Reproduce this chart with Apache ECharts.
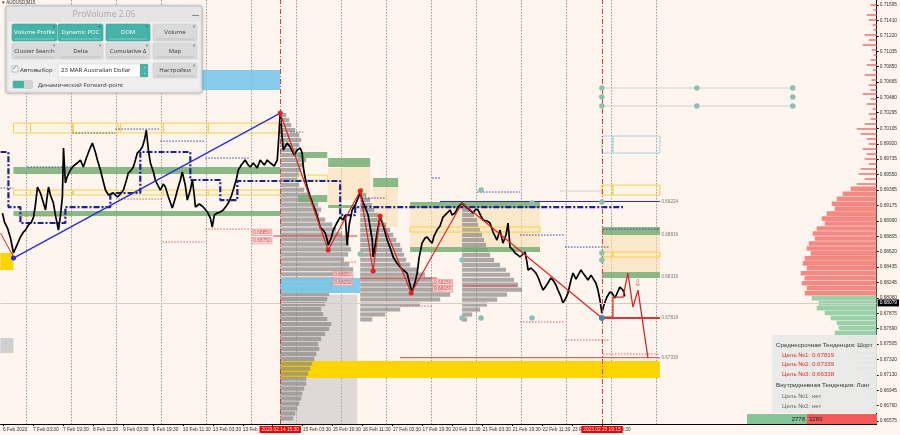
<!DOCTYPE html>
<html><head><meta charset="utf-8">
<script src="https://cdn.jsdelivr.net/npm/echarts@6/dist/echarts.min.js"></script>
<style>html,body{margin:0;padding:0;background:#FDF5EE}#c{width:900px;height:435px}</style>
</head><body><div id="c"></div>
<script>
// ---------- axes ----------
const X_MIN = -1.3333, X_MAX = 466.4;          // trading hours since 6 Feb 11:30
const Y_MIN = 0.66539, Y_MAX = 0.71655;
const xLabelHours = [0,16,32,48,64,80,96,112,128,144,160,176,192,208,224,240,256,272,288,304,320];
const xLabelTexts = ['6 Feb 2023','7 Feb 03:30','7 Feb 19:30','8 Feb 11:30','9 Feb 03:30','9 Feb 19:30','10 Feb 11:30','13 Feb 03:30','13 Feb 19:30','14 Feb 11:30','15 Feb 03:30','15 Feb 19:30','16 Feb 11:30','17 Feb 03:30','17 Feb 19:30','20 Feb 11:30','21 Feb 03:30','21 Feb 19:30','22 Feb 11:30','23 Feb 03:30','23 Feb 19:30'];
const yTickLabels = [0.71595,0.71410,0.71220,0.71035,0.70850,0.70665,0.70480,0.70295,0.70105,0.69920,0.69735,0.69550,0.69365,0.69175,0.68990,0.68805,0.68620,0.68435,0.68245,0.68060,0.67875,0.67690,0.67505,0.67320,0.67130,0.66945,0.66760,0.66575];
const dayLineHours = [12.5,36.5,60.5,84.5,108.5,132.5,156.5,180.5,204.5,228.5,252.5,276.5,300.5,324.5,348.5];
const currentPrice = 0.68079;
const markerTimes = [148.0, 319.75];
const markerTexts = ['2023.02.14 15:30','2023.02.23 19:15'];

// ---------- price path [hour, price] ----------
const priceData = [
[-0.3,0.69084],[0.8,0.68976],[2.4,0.68903],[4.0,0.68783],[5.6,0.68602],[7.2,0.68686],[9.3,0.68795],[10.9,0.68855],[12.0,0.68879],[13.6,0.68940],[15.2,0.68976],[16.3,0.69036],[17.3,0.69181],[18.4,0.69398],[20.0,0.69326],[21.6,0.69205],[22.7,0.69121],[23.7,0.69302],[24.3,0.69398],[25.3,0.69302],[26.9,0.69205],[28.0,0.69060],[29.6,0.68879],[30.7,0.69060],[31.7,0.69278],[32.3,0.69869],[33.3,0.69446],[34.4,0.69531],[36.0,0.69603],[37.6,0.69652],[39.7,0.69688],[41.3,0.69724],[42.9,0.69640],[44.5,0.69748],[46.1,0.69845],[47.7,0.69929],[49.3,0.69821],[50.4,0.69724],[52.0,0.69603],[53.6,0.69459],[54.7,0.69362],[56.3,0.69302],[57.3,0.69278],[58.9,0.69326],[61.1,0.69278],[62.7,0.69314],[64.3,0.69362],[65.9,0.69483],[66.9,0.69567],[68.5,0.69603],[69.6,0.69640],[70.7,0.69724],[71.7,0.69808],[73.3,0.69845],[74.4,0.69881],[75.5,0.69965],[76.5,0.70086],[77.6,0.69845],[78.7,0.69688],[80.3,0.69579],[81.3,0.69483],[82.9,0.69410],[84.0,0.69362],[85.6,0.69434],[86.7,0.69398],[88.3,0.69278],[90.4,0.69145],[92.0,0.69265],[93.1,0.69362],[94.7,0.69483],[95.7,0.69579],[97.3,0.69422],[98.4,0.69241],[100.0,0.69362],[101.1,0.69483],[102.1,0.69302],[102.7,0.69157],[104.8,0.69193],[106.9,0.69157],[109.1,0.69097],[110.7,0.69024],[111.7,0.68916],[112.8,0.69060],[114.4,0.69084],[116.0,0.69097],[117.6,0.69121],[119.2,0.69169],[120.3,0.69205],[121.9,0.69290],[122.9,0.69362],[124.5,0.69483],[125.6,0.69603],[127.2,0.69664],[129.3,0.69724],[130.9,0.69664],[132.0,0.69640],[133.6,0.69688],[135.7,0.69627],[137.3,0.69724],[139.5,0.69664],[141.1,0.69724],[142.7,0.69688],[144.8,0.69652],[146.4,0.69724],[146.9,0.69881],[148.0,0.70291],[149.6,0.69845],[151.7,0.69929],[153.3,0.69881],[155.5,0.69784],[157.1,0.69845],[158.7,0.69869],[159.7,0.69808],[160.3,0.69640],[161.3,0.69507],[162.4,0.69398],[164.0,0.69278],[165.6,0.69181],[166.7,0.69121],[168.3,0.69000],[169.3,0.68916],[170.9,0.68879],[172.0,0.68843],[173.1,0.68759],[173.6,0.68698],[175.2,0.68783],[176.3,0.68879],[177.9,0.68952],[180.0,0.69036],[181.6,0.69000],[182.7,0.69060],[183.7,0.68698],[184.8,0.68940],[186.4,0.69121],[188.0,0.69181],[189.1,0.69241],[190.7,0.69326],[191.7,0.69241],[193.3,0.69157],[194.9,0.69060],[196.0,0.68916],[197.1,0.68759],[197.6,0.68554],[198.7,0.68698],[199.7,0.68843],[200.8,0.68976],[201.3,0.69036],[202.9,0.68940],[205.1,0.68759],[206.7,0.68662],[208.3,0.68554],[209.9,0.68493],[212.0,0.68433],[213.6,0.68397],[215.7,0.68360],[217.3,0.68216],[218.4,0.68131],[220.0,0.68252],[221.1,0.68360],[222.1,0.68541],[223.7,0.68722],[225.3,0.68783],[226.4,0.68795],[228.0,0.68747],[229.1,0.68722],[230.1,0.68807],[231.7,0.68879],[233.3,0.68928],[234.9,0.69036],[236.5,0.69072],[238.7,0.69121],[239.7,0.69060],[241.3,0.69084],[242.9,0.69157],[245.1,0.69205],[246.7,0.69169],[247.7,0.69157],[249.3,0.69121],[250.9,0.69084],[252.5,0.69133],[253.6,0.69121],[255.2,0.69048],[256.3,0.69000],[258.4,0.68988],[260.0,0.68964],[261.6,0.68855],[263.7,0.68759],[265.3,0.68879],[266.9,0.68722],[268.5,0.68819],[269.6,0.68964],[270.7,0.68674],[272.3,0.68638],[273.3,0.68602],[274.9,0.68578],[276.0,0.68554],[277.6,0.68590],[278.7,0.68614],[279.7,0.68493],[280.3,0.68397],[281.9,0.68421],[283.0,0.68397],[284.5,0.68360],[285.6,0.68312],[287.2,0.68216],[288.3,0.68155],[289.9,0.68204],[290.9,0.68240],[292.5,0.68300],[293.6,0.68276],[295.2,0.68216],[296.3,0.68155],[297.9,0.68071],[298.9,0.67998],[300.5,0.68059],[301.6,0.68119],[303.2,0.68276],[304.3,0.68360],[305.9,0.68288],[306.9,0.68312],[308.5,0.68397],[309.6,0.68360],[311.2,0.68312],[312.3,0.68276],[313.9,0.68336],[314.9,0.68312],[316.5,0.68240],[317.6,0.68155],[318.7,0.68035],[319.7,0.67878],[320.8,0.67974],[322.4,0.68071],[324.0,0.68131],[325.1,0.68119],[326.7,0.68059],[327.7,0.68071],[329.3,0.68191],[331.0,0.68155],[332.0,0.68079]
];

// ---------- zones [h1, h2, priceTop, priceBottom] ----------
const greenZones = [[5.6,148,0.69640,0.69555],[5.6,148,0.69109,0.69048],[157.6,173.1,0.69821,0.69748],[173.6,196,0.69748,0.69640],[197.6,210.9,0.69507,0.69398],[157.6,173.1,0.69302,0.69217],[173.6,189.1,0.69181,0.69145],[217.3,286.7,0.69217,0.69145],[217.3,286.7,0.68674,0.68614],[319.7,350.7,0.68916,0.68819],[319.7,350.7,0.68373,0.68300]];
const beigeZones = [[173.6,181.1,0.69627,0.69157],[181.1,196,0.69640,0.69241],[197.6,210.9,0.69398,0.68916],[217.3,286.7,0.69145,0.68674],[319.7,350.7,0.68819,0.68373]];
const yellowBoxes = [[5.6,14.7,0.70170,0.70050],[14.7,37.1,0.70170,0.70050],[37.6,61.6,0.70170,0.70050],[62.7,85.6,0.70170,0.70050],[85.6,109.6,0.70170,0.70050],[109.6,148,0.70170,0.70050],
 [5.6,14.7,0.69362,0.69302],[14.7,37.1,0.69362,0.69302],[37.6,61.6,0.69362,0.69302],[62.7,85.6,0.69362,0.69302],[85.6,109.6,0.69362,0.69302],[109.6,148,0.69362,0.69302],
 [157.1,173.1,0.69543,0.69483],[217.3,286.7,0.68916,0.68855],[319.7,325.6,0.69422,0.69302],[325.6,350.7,0.69422,0.69302],[319.7,325.6,0.68614,0.68554],[325.6,350.7,0.68614,0.68554]];
const blueBoxes = [[319.7,325.6,0.70014,0.69808],[325.6,350.7,0.70014,0.69808]];
const skyZones = [[105.3,148,0.70810,0.70569],[148,190.7,0.68300,0.68119]];
const goldZones = [[148,350.7,0.67299,0.67094],[-1.4,5.6,0.68602,0.68397]];
const grayZones = [[-1.4,5.6,0.67576,0.67395]];
const profileBackZones = [[148,189.1,0.68100,0.66539]];

// ---------- volume profiles ----------
const profile1Start = 148.0, profile1Top = 0.70267;
const profile1Volumes = [6,9,11,15,19,21,19,17,23,26,24,21,19,17,19,24,30,34,38,41,39,45,52,56,62,66,69,71,68,64,69,73,68,62,56,52,49,47,45,41,43,47,51,49,45,41,38,39,36,34,32,30,28,26,26,24,22,21,19,17,15,13];
const profile2Start = 190.7, profile2Top = 0.69362;
const profile2Volumes = [3,6,10,12,14,18,22,26,30,33,36,40,42,44,46,50,58,65,72,78,85,90,80,60,40,25,12];
const profile3Start = 245.1, profile3Top = 0.69181;
const profile3Volumes = [4,8,12,15,16,18,20,22,24,26,28,32,38,44,48,52,56,60,45,35,25,18,10,5];
const marketProfileTop = 0.71595;
const marketProfileVolumes = [6,3,10,8,4,3,12,8,14,5,3,6,10,4,12,5,8,6,14,6,10,4,8,6,12,20,16,10,8,14,10,12,8,16,18,12,20,26,34,40,45,42,50,55,52,60,64,62,68,70,66,72,74,70,76,72,75,70,72,65,58,60,52,46,40,38,42,30,25,20,22,18,15,20,12,10,8,12,6,8,5,4];
const profileStep = 0.0006;

// ---------- lines ----------
const blueTrend = [[5.6,0.68541],[148.0,0.70291]];
const redLead = [[-1.3,0.68843],[5.6,0.68554]];
const redZigzag = [[148.0,0.70291],[173.6,0.68638],[190.7,0.69350],[197.6,0.68385],[201.3,0.69048],[217.9,0.68119],[245.1,0.69205],[319.7,0.67817]];
const redProjection = [[320.3,0.67829],[325.6,0.67829],[325.6,0.68071],[331.0,0.68071],[333.6,0.68360],[336.3,0.67950],[339.0,0.68155],[344.3,0.67335]];
const navyStep = [[-1.3,0.69821],[2.9,0.69821],[2.9,0.69157],[9.3,0.69157],[9.3,0.68964],[33.3,0.68964],[33.3,0.69157],[57.3,0.69157],[57.3,0.69326],[73.3,0.69326],[73.3,0.69821],[100.0,0.69821],[100.0,0.69483],[116.0,0.69483],[116.0,0.69241],[125.1,0.69241],[125.1,0.69471],[180.0,0.69471],[180.0,0.69060],[188.0,0.69060],[188.0,0.69157],[331.0,0.69157]];
// [h1, h2, price]
const navyDotted = [[60.0,84.0,0.70098],[84.0,108.0,0.69953],[108.0,132.0,0.69748],[13.1,37.1,0.69640],[-1.3,5.6,0.69386],[191.7,204.0,0.69265],[229.1,233.3,0.69507],[253.1,276.0,0.69338],[276.0,300.0,0.68819],[300.0,324.0,0.68674],[320.3,350.7,0.68891]];
const redDotted = [[8.3,33.3,0.69048],[61.6,85.1,0.69253],[85.1,108.0,0.68735],[108.0,132.0,0.68891],[212.0,229.6,0.67962],[276.0,300.0,0.67769],[320.3,350.7,0.67383],[300.0,324.0,0.67552],[181.1,189.1,0.68493]];
const grayDotted = [[37.1,60.0,0.70050],[153.3,160.3,0.70062]];
const redThin = [[144.3,189.1,0.68807],[190.7,231.7,0.68300],[245.6,274.4,0.68204],[212.0,350.7,0.67339]];
const redThick = [[319.7,350.7,0.67819]];
const navySolid = [[233.3,350.7,0.69224]];
const grayThin = [[297.3,319.7,0.69350],[319.7,421.6,0.70593],[319.7,421.6,0.70376]];

// ---------- points & labels ----------
const redDots = [[148.0,0.70291],[173.6,0.68638],[190.7,0.69350],[197.6,0.68385],[201.3,0.69048],[217.9,0.68119]];
const blueDots = [[5.6,0.68541]];
const steelDots = [[319.7,0.67817]];
const tealDots = [[319.7,0.70593],[319.7,0.70485],[319.7,0.70376],[370.4,0.70593],[370.4,0.70376],[421.6,0.70593],[421.6,0.70485],[421.6,0.70376],[319.7,0.69217],[319.7,0.68602],[319.7,0.68517],[245.1,0.68517],[245.1,0.67817],[255.2,0.69362],[255.2,0.67817],[282.4,0.69205],[282.4,0.67817],[190.7,0.68590]];
const priceTags = [[133.1,0.68850,'0.68850'],[133.1,0.68750,'0.68750'],[176.3,0.68340,'0.68350'],[176.3,0.68245,'0.68250'],[229.6,0.68245,'0.68250'],[229.6,0.68170,'0.68180']];
const targetTags = [[351.6,0.69224,'0.69224'],[351.6,0.68819,'0.68819'],[351.6,0.68319,'0.68319'],[351.6,0.67819,'0.67819'],[351.6,0.67339,'0.67339']];
const arrowMark = [[339.0,0.68240,'⇩']];

const buyVolume = 2778, sellVolume = 3283;
const trendLines = [
  ['Среднесрочная Тенденция: Шорт','#333'],
  ['Цель №1: 0.67819','#E0302E'],
  ['Цель №2: 0.67339','#E0302E'],
  ['Цель №3: 0.66338','#E0302E'],
  ['Внутридневная Тенденция: Лонг','#333'],
  ['Цель №1: нет','#6A6A6A'],
  ['Цель №2: нет','#6A6A6A']
];

// ---------- helpers ----------
function rectSeries(data, style, z){
  return {type:'custom', data, z, silent:true, clip:true, encode:{x:[0,1], y:[2,3]},
    renderItem(params, api){
      const a = api.coord([api.value(0), api.value(2)]);
      const b = api.coord([api.value(1), api.value(3)]);
      return {type:'rect', shape:{x:Math.min(a[0],b[0]), y:Math.min(a[1],b[1]), width:Math.abs(b[0]-a[0]), height:Math.abs(b[1]-a[1])}, style:Object.assign({}, style)};
    }};
}
function segSeries(data, style, z){
  return {type:'custom', data, z, silent:true, clip:true, encode:{x:[0,1], y:2},
    renderItem(params, api){
      const a = api.coord([api.value(0), api.value(2)]);
      const b = api.coord([api.value(1), api.value(2)]);
      return {type:'line', shape:{x1:a[0], y1:a[1], x2:b[0], y2:b[1]}, style:Object.assign({}, style)};
    }};
}
function profileSeries(start, top, vols, fill, z){
  const hoursPerVol = 0.5333;
  const data = vols.map((v,i)=>[top - i*profileStep, v]);
  return {type:'custom', data, z, silent:true, clip:true, encode:{y:0},
    renderItem(params, api){
      const p = api.value(0), v = api.value(1);
      const a = api.coord([start, p + profileStep/2]);
      const b = api.coord([start + v*hoursPerVol, p - profileStep/2]);
      return {type:'rect', shape:{x:a[0], y:a[1]+0.5, width:b[0]-a[0], height:Math.max(b[1]-a[1]-0.8,1)}, style:{fill}};
    }};
}
function lineSeries(data, color, width, z, dash){
  return {type:'line', data, z, silent:true, showSymbol:false, symbol:'none', animation:false,
    lineStyle:{color, width, type: dash || 'solid'}};
}
function dotSeries(data, color, size, z){
  return {type:'scatter', data, z, silent:true, symbolSize:size, itemStyle:{color, opacity:1}};
}
function tagSeries(data, style, z){
  return {type:'scatter', data, z, silent:true, symbolSize:0,
    label:Object.assign({show:true, position:'right', distance:0, formatter:p=>p.data[2]}, style)};
}

const F = 'Liberation Sans';
const mpData = marketProfileVolumes.map((v,i)=>[marketProfileTop - i*profileStep, v]);

const series = [
  // day separators
  {type:'custom', data:dayLineHours.map(h=>[h]), z:1, silent:true, encode:{x:0},
    renderItem(params, api){
      const a = api.coord([api.value(0), Y_MAX]); const b = api.coord([api.value(0), Y_MIN]);
      return {type:'line', shape:{x1:Math.round(a[0])+0.5, y1:a[1], x2:Math.round(b[0])+0.5, y2:b[1]}, style:{stroke:'#9A9A9A', lineWidth:1, lineDash:[1.5,1.5]}};
    }},
  // market profile (right)
  {type:'custom', data:mpData, z:1, silent:true, encode:{y:0},
    renderItem(params, api){
      const p = api.value(0), v = api.value(1);
      const a = api.coord([X_MAX - v*0.5333, p + profileStep/2]);
      const b = api.coord([X_MAX, p - profileStep/2]);
      const full = v >= 24;
      const h = full ? b[1]-a[1]-0.4 : 2;
      const y = full ? a[1] : Math.round((a[1]+b[1])/2) - 1;
      return {type:'rect', shape:{x:a[0], y, width:b[0]-a[0], height:h},
        style:{fill: p > currentPrice ? (full ? 'rgba(242,122,116,0.88)' : 'rgba(238,120,120,0.8)') : 'rgba(140,204,160,0.88)'}};
    }},
  rectSeries(profileBackZones, {fill:'rgba(185,185,185,0.45)'}, 1),
  rectSeries(beigeZones, {fill:'rgba(250,222,178,0.6)'}, 1),
  rectSeries(goldZones, {fill:'#FFD400'}, 1),
  rectSeries(grayZones, {fill:'#CFCFCF'}, 1),
  profileSeries(profile1Start, profile1Top, profile1Volumes, 'rgba(135,135,135,0.7)', 2),
  profileSeries(profile2Start, profile2Top, profile2Volumes, 'rgba(135,135,135,0.7)', 2),
  profileSeries(profile3Start, profile3Top, profile3Volumes, 'rgba(135,135,135,0.7)', 2),
  rectSeries(skyZones, {fill:'rgba(120,200,235,0.9)'}, 2),
  rectSeries(greenZones, {fill:'rgba(112,172,112,0.82)'}, 2),
  rectSeries(yellowBoxes, {fill:'rgba(255,240,170,0.12)', stroke:'#F2D24B', lineWidth:1}, 2),
  rectSeries(blueBoxes, {fill:'none', stroke:'#A9D3DF', lineWidth:1}, 2),
  segSeries(navyDotted, {stroke:'#3A3FB0', lineWidth:1, lineDash:[1.5,1.5]}, 3),
  segSeries(redDotted, {stroke:'#E06060', lineWidth:1, lineDash:[1.5,1.5]}, 3),
  segSeries(grayDotted, {stroke:'#555', lineWidth:1, lineDash:[1.5,1.5]}, 3),
  segSeries(grayThin, {stroke:'#D5D0CC', lineWidth:1}, 3),
  segSeries(redThin, {stroke:'#D84040', lineWidth:1}, 3),
  segSeries(redThick, {stroke:'#D03A3A', lineWidth:2}, 3),
  segSeries(navySolid, {stroke:'#2A2F8A', lineWidth:1}, 3),
  lineSeries(navyStep, '#1E2290', 2.2, 3, [6,2,2,2]),
  // price
  {type:'line', data:priceData, z:4, silent:true, showSymbol:false, symbol:'none',
    lineStyle:{color:'#000', width:1.7},
    markLine:{silent:true, symbol:['none','none'], animation:false,
      data:[
        {yAxis:currentPrice, lineStyle:{color:'#D9CBC6', type:'solid', width:1},
          label:{show:true, position:'end', distance:1, formatter:currentPrice.toFixed(5), backgroundColor:'#000', color:'#fff', fontSize:4.8, fontFamily:F, padding:[1,2]}},
        {xAxis:markerTimes[0], lineStyle:{color:'#E53935', type:[5,2,1,2], width:1},
          label:{show:true, position:'start', distance:2, formatter:markerTexts[0], backgroundColor:'#F00000', color:'#fff', fontSize:4.8, fontFamily:F, padding:[1,2]}},
        {xAxis:markerTimes[1], lineStyle:{color:'#E53935', type:[5,2,1,2], width:1},
          label:{show:true, position:'start', distance:2, formatter:markerTexts[1], backgroundColor:'#F00000', color:'#fff', fontSize:4.8, fontFamily:F, padding:[1,2]}}
      ]}},
  lineSeries(blueTrend, '#2430DC', 1.4, 5),
  lineSeries(redLead, '#E02020', 1, 5),
  lineSeries(redZigzag, '#E02424', 1.2, 5),
  lineSeries(redProjection, '#E02424', 1.3, 5),
  dotSeries(tealDots, '#8DBFB2', 5.5, 6),
  dotSeries(redDots, '#E02424', 5, 6),
  dotSeries(blueDots, '#2430DC', 5, 6),
  dotSeries(steelDots, '#4F7FA3', 6, 6),
  tagSeries(priceTags, {fontSize:4.8, fontFamily:F, color:'#D81E1E', backgroundColor:'#F8D3D3', borderColor:'#E88A8A', borderWidth:0.6, padding:[0.5,1]}, 7),
  tagSeries(targetTags, {fontSize:4.5, fontFamily:F, color:'#555'}, 7),
  tagSeries(arrowMark, {fontSize:9, color:'#E02424', position:'inside', distance:0}, 7)
];

// ---------- UI panels (graphic) ----------
const g = [];
g.push({type:'text', z:100, style:{text:'▾ AUDUSD,M15', x:2, y:3, verticalAlign:'middle', fill:'#333', fontSize:4.5, fontFamily:F}});
g.push({type:'rect', z:100, shape:{x:6,y:6,width:196,height:87,r:2}, style:{fill:'#EFEFEF', stroke:'#C4C4C4', lineWidth:1, shadowBlur:3, shadowColor:'rgba(0,0,0,0.25)'}});
g.push({type:'rect', z:101, shape:{x:7,y:7,width:194,height:15}, style:{fill:'#E5E5E5'}});
g.push({type:'text', z:102, style:{text:'ProVolume 2.06', x:104, y:14.5, align:'center', verticalAlign:'middle', fill:'#A8A8A8', fontSize:8.5, fontFamily:'Open Sans'}});
g.push({type:'rect', z:102, shape:{x:192,y:15,width:7,height:1}, style:{fill:'#888'}});
function btn(x,y,w,h,label,active){
  g.push({type:'rect', z:101, shape:{x,y,width:w,height:h,r:1.5}, style:{fill: active ? '#45B3A8' : '#DADADA', stroke: active ? '#3CA197' : '#C9C9C9', lineWidth:0.6}});
  g.push({type:'text', z:102, style:{text:label, x:x+w/2, y:y+h/2, align:'center', verticalAlign:'middle', fill: active ? '#fff' : '#333', fontSize:6, fontFamily:'Open Sans'}});
  g.push({type:'rect', z:102, shape:{x:x+3,y:y+h-2.5,width:w-6,height:1}, style:{fill: active ? 'rgba(255,255,255,0.35)' : 'rgba(0,0,0,0.12)'}});
  g.push({type:'circle', z:102, shape:{cx:x+w-3, cy:y+2.5, r:1}, style:{fill: active ? '#2E7F77' : '#888'}});
}
btn(12,24,45,17,'Volume Profile',true);
btn(58,24,45,17,'Dynamic POC',true);
btn(106,24,44,17,'DOM',true);
btn(153,24,44,17,'Volume',false);
btn(12,43,45,16,'Cluster Search',false);
btn(58,43,45,16,'Delta',false);
btn(106,43,44,16,'Cumulative Δ',false);
btn(153,43,44,16,'Map',false);
btn(153,63,44,15,'Настройки',false);
g.push({type:'rect', z:101, shape:{x:12,y:66,width:6,height:6}, style:{fill:'#fff', stroke:'#999', lineWidth:0.6}});
g.push({type:'text', z:102, style:{text:'✓', x:15, y:68.5, align:'center', verticalAlign:'middle', fill:'#3CA197', fontSize:7}});
g.push({type:'text', z:102, style:{text:'Автовыбор', x:20, y:70, verticalAlign:'middle', fill:'#333', fontSize:6, fontFamily:'Open Sans'}});
g.push({type:'rect', z:101, shape:{x:58,y:64,width:90,height:13}, style:{fill:'#fff', stroke:'#D0D0D0', lineWidth:0.6}});
g.push({type:'text', z:102, style:{text:'23 MAR Australian Dollar', x:61, y:70.5, verticalAlign:'middle', fill:'#222', fontSize:6, fontFamily:'Open Sans'}});
g.push({type:'rect', z:102, shape:{x:140,y:64,width:8,height:13}, style:{fill:'#45B3A8'}});
g.push({type:'text', z:103, style:{text:'⌃\n⌄', x:144, y:70.5, align:'center', verticalAlign:'middle', fill:'#fff', fontSize:4, lineHeight:4}});
g.push({type:'rect', z:101, shape:{x:12,y:80,width:21,height:9,r:2}, style:{fill:'#D3D3D3'}});
g.push({type:'rect', z:102, shape:{x:13,y:81,width:11,height:7,r:1}, style:{fill:'#45B3A8'}});
g.push({type:'text', z:102, style:{text:'Динамический Forward-point', x:38, y:85, verticalAlign:'middle', fill:'#333', fontSize:6, fontFamily:'Open Sans'}});
// trend panel
g.push({type:'rect', z:100, shape:{x:772,y:335,width:105,height:78}, style:{fill:'rgba(232,232,232,0.93)'}});
const ty = [345,355,364.5,374,385,396,406];
trendLines.forEach((t,i)=>{
  const indent = (i===0||i===4) ? 776 : 782;
  g.push({type:'text', z:101, style:{text:t[0], x:indent, y:ty[i], verticalAlign:'middle', fill:t[1], fontSize:6.2, fontFamily:'Liberation Sans'}});
});
// delta bar
const barL = 747, barR = 877, barSplit = 807;
g.push({type:'rect', z:100, shape:{x:barL,y:414,width:barSplit-barL,height:10}, style:{fill:'#86C596'}});
g.push({type:'rect', z:100, shape:{x:barSplit,y:414,width:barR-barSplit,height:10}, style:{fill:'#F25A5A'}});
g.push({type:'text', z:101, style:{text:String(buyVolume), x:barSplit-2, y:419, align:'right', verticalAlign:'middle', fill:'#222', fontSize:6, fontFamily:F}});
g.push({type:'text', z:101, style:{text:String(sellVolume), x:barSplit+2, y:419, align:'left', verticalAlign:'middle', fill:'#222', fontSize:6, fontFamily:F}});

const chart = echarts.init(document.getElementById('c'), null, {renderer:'canvas'});
chart.setOption({
  animation:false,
  backgroundColor:'#FDF5EE',
  grid:{left:0, right:23, top:0, bottom:11, containLabel:false},
  xAxis:{type:'value', min:X_MIN, max:X_MAX,
    axisLine:{show:true, onZero:false, lineStyle:{color:'#000', width:1}},
    axisTick:{show:true, customValues:xLabelHours, length:2, lineStyle:{color:'#000'}},
    axisLabel:{show:true, customValues:xLabelHours, align:'left', margin:3, fontSize:4.8, fontFamily:F, color:'#333',
      formatter:v=>{const i = xLabelHours.indexOf(v); return i>=0 ? xLabelTexts[i] : '';}},
    splitLine:{show:false}},
  yAxis:{type:'value', position:'right', min:Y_MIN, max:Y_MAX,
    axisLine:{show:true, onZero:false, lineStyle:{color:'#000', width:1}},
    axisTick:{show:true, customValues:yTickLabels, length:2, lineStyle:{color:'#000'}},
    axisLabel:{show:true, customValues:yTickLabels, margin:3, fontSize:4.8, fontFamily:F, color:'#333', formatter:v=>v.toFixed(5)},
    splitLine:{show:false}},
  series,
  graphic:g
});
</script>
</body></html>
